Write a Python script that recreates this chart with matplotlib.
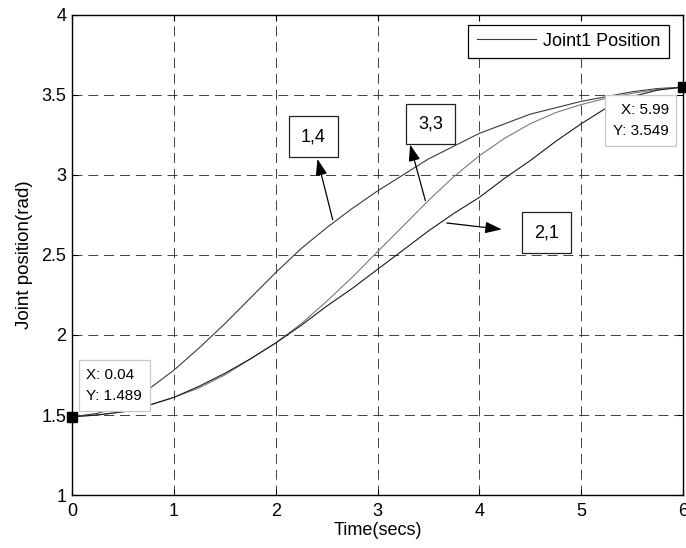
import matplotlib
matplotlib.use("Agg")
import matplotlib.pyplot as plt
import numpy as np

plt.rcParams["font.family"] = ["Liberation Sans", "DejaVu Sans"]

# time samples (s) and the three joint trajectories
t = [0.0, 0.25, 0.5, 0.75, 1.0, 1.25, 1.5, 1.75, 2.0, 2.25, 2.5, 2.75, 3.0,
     3.25, 3.5, 3.75, 4.0, 4.25, 4.5, 4.75, 5.0, 5.25, 5.5, 5.75, 6.0]
pos_14 = [1.489, 1.51, 1.56, 1.66, 1.78, 1.92, 2.07, 2.23, 2.39, 2.54, 2.67, 2.79, 2.90,
          3.00, 3.10, 3.18, 3.26, 3.32, 3.38, 3.42, 3.46, 3.49, 3.52, 3.54, 3.549]
pos_33 = [1.489, 1.50, 1.52, 1.56, 1.61, 1.67, 1.75, 1.85, 1.95, 2.07, 2.21, 2.36, 2.52,
          2.68, 2.84, 2.99, 3.12, 3.23, 3.32, 3.39, 3.44, 3.48, 3.51, 3.535, 3.549]
pos_21 = [1.489, 1.50, 1.52, 1.56, 1.61, 1.68, 1.76, 1.85, 1.95, 2.06, 2.18, 2.29, 2.41,
          2.53, 2.65, 2.76, 2.86, 2.98, 3.09, 3.21, 3.32, 3.42, 3.49, 3.53, 3.549]

tip_x = [0.04, 5.99]
tip_y = [1.489, 3.549]

fig = plt.figure(figsize=(6.86, 5.48), dpi=100)
ax = fig.add_axes([0.105, 0.0967, 0.8906, 0.876])

ax.plot(t, pos_14, color="#3a3a3a", lw=0.8, label="Joint1 Position")
ax.plot(t, pos_33, color="#7a7a7a", lw=0.8)
ax.plot(t, pos_21, color="#1a1a1a", lw=0.8)

ax.set_xlim(0, 6)
ax.set_ylim(1, 4)
ax.set_xticks(range(0, 7))
ax.set_yticks([1, 1.5, 2, 2.5, 3, 3.5, 4])
ax.set_yticklabels(["1", "1.5", "2", "2.5", "3", "3.5", "4"])
ax.tick_params(direction="in", top=True, right=True, labelsize=13, length=4)
ax.tick_params(axis="x", pad=6)
ax.tick_params(axis="y", pad=4)
ax.grid(True, color="#202020", lw=0.6, linestyle=(0, (12, 7)))
for s in ax.spines.values():
    s.set_linewidth(1.0)

ax.set_xlabel("Time(secs)", fontsize=13, labelpad=1)
ax.set_ylabel("Joint position(rad)", fontsize=13.5, labelpad=6)

leg = ax.legend(loc="upper right", bbox_to_anchor=(0.977, 0.98), fontsize=13,
                fancybox=False, framealpha=1, edgecolor="black", handlelength=3.3,
                borderaxespad=0.0, borderpad=0.45, handletextpad=0.4)
leg.get_frame().set_linewidth(0.9)

# data tips
ax.plot(tip_x[0] - 0.04, tip_y[0], "s", color="black", ms=7, clip_on=False, zorder=5)
ax.plot(tip_x[1] + 0.01, tip_y[1], "s", color="black", ms=7, clip_on=False, zorder=5)
tipbox = dict(boxstyle="square,pad=0.5", fc="white", ec="#c8c8c8", lw=0.9)
ax.text(0.14, 1.685, f"X: {tip_x[0]}\nY: {tip_y[0]}", fontsize=11, ha="left",
        va="center", bbox=tipbox, linespacing=1.65, zorder=6)
ax.text(5.86, 3.34, f"X: {tip_x[1]}\nY: {tip_y[1]}", fontsize=11, ha="right",
        va="center", bbox=tipbox, linespacing=1.65, zorder=6)

# labelled arrows
labbox = dict(boxstyle="square,pad=0.65", fc="white", ec="#222222", lw=0.9)
arrow = dict(arrowstyle="-|>,head_length=1.0,head_width=0.35", color="black", lw=0.9,
             shrinkA=0, shrinkB=0)
ax.text(2.37, 3.24, "1,4", fontsize=13, ha="center", va="center", bbox=labbox)
ax.annotate("", xy=(2.41, 3.10), xytext=(2.56, 2.72), arrowprops=arrow)
ax.text(3.52, 3.32, "3,3", fontsize=13, ha="center", va="center", bbox=labbox)
ax.annotate("", xy=(3.32, 3.19), xytext=(3.47, 2.84), arrowprops=arrow)
ax.text(4.66, 2.64, "2,1", fontsize=13, ha="center", va="center", bbox=labbox)
ax.annotate("", xy=(4.22, 2.66), xytext=(3.68, 2.70), arrowprops=arrow)

fig.savefig("out.png", dpi=100)
